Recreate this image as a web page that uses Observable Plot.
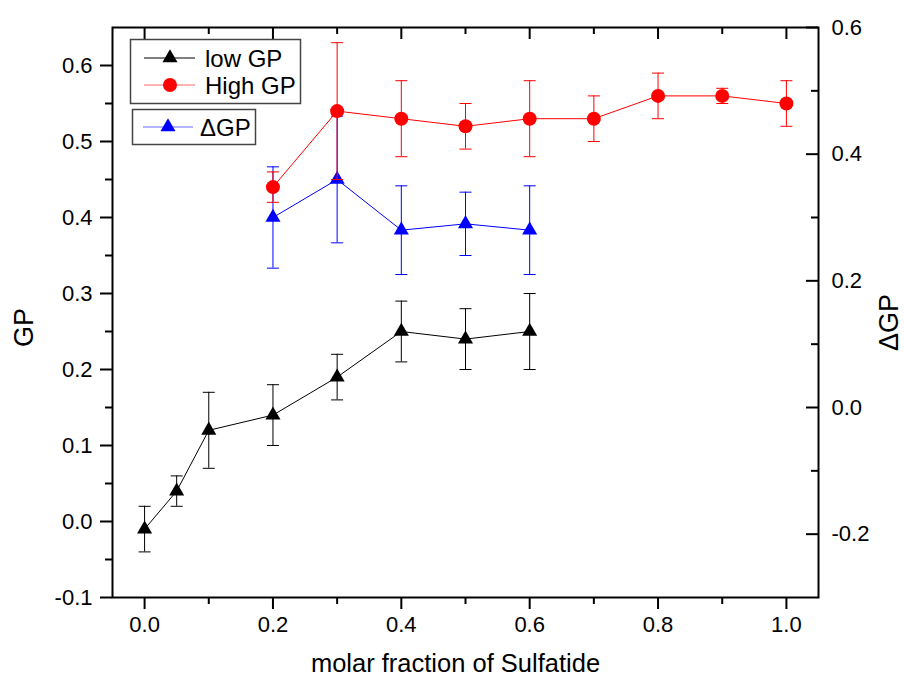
<!DOCTYPE html>
<html><head><meta charset="utf-8">
<script src="https://cdn.jsdelivr.net/npm/d3@7"></script>
<script src="https://cdn.jsdelivr.net/npm/@observablehq/plot@0.6"></script>
<style>body{margin:0;background:#fff;} svg{display:block;}</style>
</head><body><div id="chart"></div>
<script>
// ---- data ----
const lowX = [0, 0.05, 0.1, 0.2, 0.3, 0.4, 0.5, 0.6];
const lowGP = [-0.01, 0.04, 0.12, 0.14, 0.19, 0.25, 0.24, 0.25];
const lowErr = [0.03, 0.02, 0.05, 0.04, 0.03, 0.04, 0.04, 0.05];
const highX = [0.2, 0.3, 0.4, 0.5, 0.6, 0.7, 0.8, 0.9, 1.0];
const highGP = [0.44, 0.54, 0.53, 0.52, 0.53, 0.53, 0.56, 0.56, 0.55];
const highErr = [0.02, 0.09, 0.05, 0.03, 0.05, 0.03, 0.03, 0.01, 0.03];
const deltaX = [0.2, 0.3, 0.4, 0.5, 0.6];
const deltaGP = [0.30, 0.36, 0.28, 0.29, 0.28];
const deltaErr = [0.08, 0.10, 0.07, 0.05, 0.07];
const xMajor = [0, 0.2, 0.4, 0.6, 0.8, 1.0];
const xMinor = [0.1, 0.3, 0.5, 0.7, 0.9];
const gpMajor = [-0.1, 0, 0.1, 0.2, 0.3, 0.4, 0.5, 0.6];
const gpMinor = [-0.05, 0.05, 0.15, 0.25, 0.35, 0.45, 0.55];
const dMajor = [-0.2, 0, 0.2, 0.4, 0.6];
const dMinor = [-0.1, 0.1, 0.3, 0.5];
const seriesNames = ["low GP", "High GP", "\u0394GP"];
const xTitle = "molar fraction of Sulfatide";
const yTitle = "GP";
const y2Title = "\u0394GP";

// ---- layout ----
const W = 904, H = 678, mL = 112, mR = 86, mT = 27, mB = 81;
const plotW = W - mL - mR, plotH = H - mT - mB;
const FONT = "'Liberation Sans', Arial, Helvetica, sans-serif";
const colLow = "#000000", colHigh = "#ff0000", colDelta = "#0000ff";

// right axis (ΔGP) mapped into GP coordinates
const toGP = d3.scaleLinear().domain([-0.3, 0.6]).range([-0.1, 0.65]);
const fmt = d => (Math.abs(d) < 1e-9 ? 0 : d).toFixed(1);

const low = lowX.map((x, i) => ({x, y: lowGP[i], lo: lowGP[i] - lowErr[i], hi: lowGP[i] + lowErr[i]}));
const high = highX.map((x, i) => ({x, y: highGP[i], lo: highGP[i] - highErr[i], hi: highGP[i] + highErr[i]}));
const delta = deltaX.map((x, i) => ({x, y: toGP(deltaGP[i]), lo: toGP(deltaGP[i] - deltaErr[i]), hi: toGP(deltaGP[i] + deltaErr[i])}));

const cap = {draw(ctx, size) { const w = Math.sqrt(size / Math.PI); ctx.moveTo(-w, 0); ctx.lineTo(w, 0); }};

function series(data, color, symbol, r) {
  return [
    Plot.ruleX(data, {x: "x", y1: "lo", y2: "hi", stroke: color, strokeWidth: 1}),
    Plot.dot(data, {x: "x", y: "hi", symbol: cap, r: 6, stroke: color, fill: "none", strokeWidth: 1}),
    Plot.dot(data, {x: "x", y: "lo", symbol: cap, r: 6, stroke: color, fill: "none", strokeWidth: 1}),
    Plot.line(data, {x: "x", y: "y", stroke: color, strokeWidth: 1}),
    Plot.dot(data, {x: "x", y: "y", symbol, r, fill: color, stroke: "none"})
  ];
}

const plot = Plot.plot({
  width: W, height: H,
  marginLeft: mL, marginRight: mR, marginTop: mT, marginBottom: mB,
  style: {fontFamily: FONT, background: "#fff", color: "#000"},
  x: {domain: [-0.05, 1.05], label: null},
  y: {domain: [-0.1, 0.65], label: null},
  marks: [
    ...series(delta, colDelta, "triangle", 5.6),
    ...series(low, colLow, "triangle", 5.6),
    ...series(high, colHigh, "circle", 7),
    // bottom axis (outward ticks)
    Plot.axisX(xMajor, {anchor: "bottom", tickSize: 12, tickPadding: 7, tickFormat: fmt, fontSize: 22, strokeWidth: 2, label: null}),
    Plot.axisX(xMinor, {anchor: "bottom", tickSize: 7, tickFormat: () => "", strokeWidth: 2, label: null}),
    // left axis (outward ticks)
    Plot.axisY(gpMajor, {anchor: "left", tickSize: 12, tickPadding: 8, tickFormat: fmt, fontSize: 22, strokeWidth: 2, label: null}),
    Plot.axisY(gpMinor, {anchor: "left", tickSize: 7, tickFormat: () => "", strokeWidth: 2, label: null}),
    // right axis labels (ΔGP)
    Plot.axisY(dMajor.map(toGP), {anchor: "right", tickSize: 0, tickPadding: 13, tickFormat: d => fmt(toGP.invert(d)), fontSize: 22, label: null}),
    // inward ticks top & right
    Plot.ruleX(xMajor, {insetBottom: plotH - 12, strokeWidth: 2}),
    Plot.ruleX(xMinor, {insetBottom: plotH - 7, strokeWidth: 2}),
    Plot.ruleY(dMajor.map(toGP), {insetLeft: plotW - 12, strokeWidth: 2}),
    Plot.ruleY(dMinor.map(toGP), {insetLeft: plotW - 7, strokeWidth: 2}),
    Plot.frame({stroke: "#000", strokeWidth: 2}),
    // titles
    Plot.text([xTitle], {text: d => d, frameAnchor: "bottom", dx: -10, dy: 66, fontSize: 25.5, lineAnchor: "middle", textAnchor: "middle"}),
    Plot.text([yTitle], {text: d => d, frameAnchor: "left", dx: -88, dy: 15, rotate: -90, fontSize: 27, lineAnchor: "middle", textAnchor: "middle"}),
    Plot.text([y2Title], {text: d => d, frameAnchor: "right", dx: 71, dy: 10, rotate: -90, fontSize: 27, lineAnchor: "middle", textAnchor: "middle"})
  ]
});
document.getElementById("chart").appendChild(plot);

// ---- legend ----
const svg = d3.select(plot);
const g = svg.append("g").attr("font-family", FONT).attr("font-size", 24).attr("text-anchor", "start");
g.append("rect").attr("x", 130.5).attr("y", 39.5).attr("width", 170).attr("height", 64)
  .attr("fill", "#fff").attr("stroke", "#444").attr("stroke-width", 1.5);
g.append("rect").attr("x", 132.5).attr("y", 109.5).attr("width", 123).attr("height", 35)
  .attr("fill", "#fff").attr("stroke", "#444").attr("stroke-width", 1.5);
const triPath = d3.symbol(d3.symbolTriangle, 5.6 * 5.6 * Math.PI)();
const circPath = d3.symbol(d3.symbolCircle, 7 * 7 * Math.PI)();
const entries = [
  {name: seriesNames[0], color: colLow, line: "#000", path: triPath, y: 58, x0: 144, x1: 195, mx: 170, tx: 205},
  {name: seriesNames[1], color: colHigh, line: "#ff6a6a", path: circPath, y: 85, x0: 144, x1: 195, mx: 170, tx: 205},
  {name: seriesNames[2], color: colDelta, line: "#6a6aff", path: triPath, y: 127, x0: 143, x1: 193, mx: 168, tx: 200}
];
for (const e of entries) {
  g.append("line").attr("x1", e.x0).attr("x2", e.x1).attr("y1", e.y).attr("y2", e.y).attr("stroke", e.line).attr("stroke-width", 1.2);
  g.append("path").attr("d", e.path).attr("transform", `translate(${e.mx},${e.y})`).attr("fill", e.color);
  g.append("text").attr("x", e.tx).attr("y", e.y).attr("dy", "0.36em").attr("fill", "#000").text(e.name);
}
</script>
</body></html>
